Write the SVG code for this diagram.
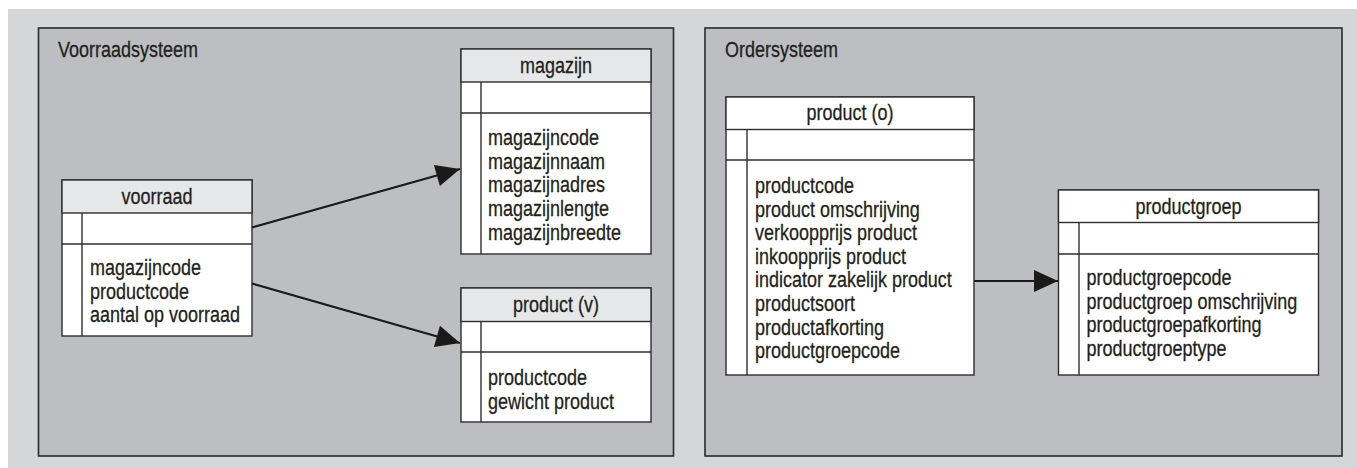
<svg xmlns="http://www.w3.org/2000/svg" width="1357" height="468" viewBox="0 0 1357 468">
<style>
.bg{fill:#d5d6d7}
.panel{fill:#bdbec1;stroke:#2a2a2a;stroke-width:1.6}
.box{fill:#ffffff;stroke:#2e2e2e;stroke-width:1.4}
.hdr-g{fill:#e6e7e8;stroke:#2e2e2e;stroke-width:1.4}
.hdr-w{fill:#ffffff;stroke:#2e2e2e;stroke-width:1.4}
.ln{stroke:#2e2e2e;stroke-width:1.4;fill:none}
text{font-family:"Liberation Sans",Arial,sans-serif;font-size:22px;fill:#231f20;stroke:#231f20;stroke-width:0.3}
.c{text-anchor:middle}
.conn{stroke:#1a1a1a;stroke-width:2.2;fill:none;marker-end:url(#ah)}
</style>
<defs>
<marker id="ah" markerUnits="userSpaceOnUse" markerWidth="26" markerHeight="26" viewBox="-1 -13 26 26" refX="24" refY="0" orient="auto">
<path d="M0,-11 L24,0 L0,11 z" fill="#1a1a1a"/>
</marker>
</defs>
<rect class="bg" x="8" y="9" width="1349" height="459"/>
<g id="voorraadsysteem">
<rect class="panel" x="38.5" y="28" width="635" height="428"/>
<text transform="translate(58 57) scale(0.818 1)">Voorraadsysteem</text>
</g>
<g id="ordersysteem">
<rect class="panel" x="705" y="28" width="637" height="428"/>
<text transform="translate(725 57) scale(0.818 1)">Ordersysteem</text>
</g>
<g id="voorraad">
<rect class="box" x="62" y="180" width="190" height="156"/>
<rect class="hdr-g" x="62" y="180" width="190" height="33"/>
<line class="ln" x1="62" y1="244" x2="252" y2="244"/>
<line class="ln" x1="82" y1="213" x2="82" y2="336"/>
<text class="c" transform="translate(157 204) scale(0.818 1)">voorraad</text>
<text transform="translate(90 275) scale(0.818 1)">magazijncode</text>
<text transform="translate(90 298.5) scale(0.818 1)">productcode</text>
<text transform="translate(90 322) scale(0.818 1)">aantal op voorraad</text>
</g>
<g id="magazijn">
<rect class="box" x="461" y="49" width="190" height="205"/>
<rect class="hdr-g" x="461" y="49" width="190" height="33"/>
<line class="ln" x1="461" y1="113" x2="651" y2="113"/>
<line class="ln" x1="481" y1="82" x2="481" y2="254"/>
<text class="c" transform="translate(556 72.5) scale(0.818 1)">magazijn</text>
<text transform="translate(488 145) scale(0.818 1)">magazijncode</text>
<text transform="translate(488 168.5) scale(0.818 1)">magazijnnaam</text>
<text transform="translate(488 192) scale(0.818 1)">magazijnadres</text>
<text transform="translate(488 216) scale(0.818 1)">magazijnlengte</text>
<text transform="translate(488 240) scale(0.818 1)">magazijnbreedte</text>
</g>
<g id="product-v">
<rect class="box" x="461" y="288" width="190" height="134"/>
<rect class="hdr-g" x="461" y="288" width="190" height="33.5"/>
<line class="ln" x1="461" y1="352" x2="651" y2="352"/>
<line class="ln" x1="481" y1="321.5" x2="481" y2="422"/>
<text class="c" transform="translate(556 311.5) scale(0.818 1)">product (v)</text>
<text transform="translate(488 385) scale(0.818 1)">productcode</text>
<text transform="translate(488 408.5) scale(0.818 1)">gewicht product</text>
</g>
<g id="product-o">
<rect class="box" x="726" y="97" width="248" height="278"/>
<rect class="hdr-w" x="726" y="97" width="248" height="32.5"/>
<line class="ln" x1="726" y1="160" x2="974" y2="160"/>
<line class="ln" x1="747" y1="129.5" x2="747" y2="375"/>
<text class="c" transform="translate(850 120) scale(0.818 1)">product (o)</text>
<text transform="translate(755 193) scale(0.818 1)">productcode</text>
<text transform="translate(755 216.5) scale(0.818 1)">product omschrijving</text>
<text transform="translate(755 240) scale(0.818 1)">verkoopprijs product</text>
<text transform="translate(755 263.5) scale(0.818 1)">inkoopprijs product</text>
<text transform="translate(755 287) scale(0.818 1)">indicator zakelijk product</text>
<text transform="translate(755 311) scale(0.818 1)">productsoort</text>
<text transform="translate(755 334.5) scale(0.818 1)">productafkorting</text>
<text transform="translate(755 358) scale(0.818 1)">productgroepcode</text>
</g>
<g id="productgroep">
<rect class="box" x="1058.5" y="190" width="260" height="185"/>
<rect class="hdr-w" x="1058.5" y="190" width="260" height="32.5"/>
<line class="ln" x1="1058.5" y1="254" x2="1318.5" y2="254"/>
<line class="ln" x1="1079" y1="222.5" x2="1079" y2="375"/>
<text class="c" transform="translate(1188.5 213.5) scale(0.818 1)">productgroep</text>
<text transform="translate(1086.5 285) scale(0.818 1)">productgroepcode</text>
<text transform="translate(1086.5 308.5) scale(0.818 1)">productgroep omschrijving</text>
<text transform="translate(1086.5 332) scale(0.818 1)">productgroepafkorting</text>
<text transform="translate(1086.5 355.5) scale(0.818 1)">productgroeptype</text>
</g>
<g id="connectors">
<line class="conn" x1="252" y1="227.5" x2="460" y2="169"/>
<line class="conn" x1="252" y1="283.5" x2="460" y2="343"/>
<line class="conn" x1="974" y1="281" x2="1058" y2="281"/>
</g>
</svg>
